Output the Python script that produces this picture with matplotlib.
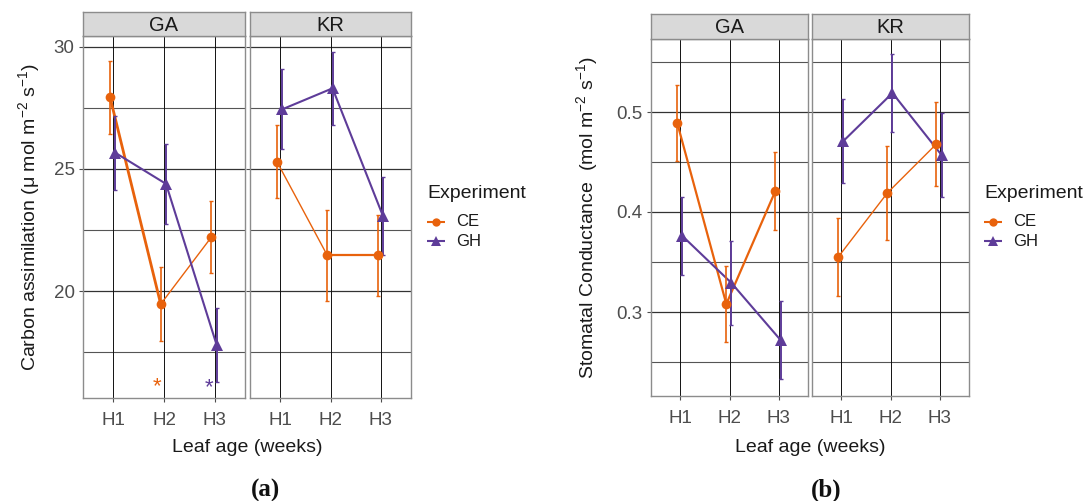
import matplotlib
matplotlib.use("Agg")
import matplotlib.pyplot as plt
import numpy as np

plt.rcParams['font.family'] = ['Liberation Sans', 'DejaVu Sans']
plt.rcParams['mathtext.fontset'] = 'custom'
plt.rcParams['mathtext.rm'] = 'Liberation Sans'

# ---------------- data ----------------
weeks = ['H1', 'H2', 'H3']
sites = ['GA', 'KR']
experiments = ['CE', 'GH']

# Carbon assimilation (a)
A_GA_CE = [27.93, 19.47, 22.21]
A_GA_CE_err = [1.50, 1.50, 1.48]
A_GA_GH = [25.66, 24.39, 17.80]
A_GA_GH_err = [1.50, 1.63, 1.50]
A_KR_CE = [25.30, 21.47, 21.47]
A_KR_CE_err = [1.48, 1.87, 1.65]
A_KR_GH = [27.44, 28.30, 23.09]
A_KR_GH_err = [1.63, 1.50, 1.60]

# Stomatal conductance (b)
G_GA_CE = [0.489, 0.308, 0.421]
G_GA_CE_err = [0.038, 0.038, 0.039]
G_GA_GH = [0.376, 0.329, 0.272]
G_GA_GH_err = [0.039, 0.042, 0.039]
G_KR_CE = [0.355, 0.419, 0.468]
G_KR_CE_err = [0.039, 0.047, 0.042]
G_KR_GH = [0.471, 0.519, 0.457]
G_KR_GH_err = [0.042, 0.039, 0.042]

# significance asterisks in panel (a) GA
star_x = [1.855, 2.88]
star_y = [16.08, 16.05]
star_exp = ['CE', 'GH']

# ---------------- style ----------------
W, H = 1085, 501
colors = {'CE': '#E8620C', 'GH': '#5E3C99'}
markers = {'CE': 'o', 'GH': '^'}
msize = {'CE': 7.0, 'GH': 8.5}
dodge = {'CE': -0.065, 'GH': 0.04}
seg_w = {
    ('a', 'GA', 'CE'): [2.0, 1.0], ('a', 'GA', 'GH'): [1.5, 1.5],
    ('a', 'KR', 'CE'): [1.0, 1.6], ('a', 'KR', 'GH'): [1.5, 1.5],
    ('b', 'GA', 'CE'): [1.6, 1.6], ('b', 'GA', 'GH'): [1.5, 1.5],
    ('b', 'KR', 'CE'): [1.0, 1.0], ('b', 'KR', 'GH'): [1.5, 1.5],
}
data = {
    ('a', 'GA', 'CE'): (A_GA_CE, A_GA_CE_err), ('a', 'GA', 'GH'): (A_GA_GH, A_GA_GH_err),
    ('a', 'KR', 'CE'): (A_KR_CE, A_KR_CE_err), ('a', 'KR', 'GH'): (A_KR_GH, A_KR_GH_err),
    ('b', 'GA', 'CE'): (G_GA_CE, G_GA_CE_err), ('b', 'GA', 'GH'): (G_GA_GH, G_GA_GH_err),
    ('b', 'KR', 'CE'): (G_KR_CE, G_KR_CE_err), ('b', 'KR', 'GH'): (G_KR_GH, G_KR_GH_err),
}

fig = plt.figure(figsize=(W / 100, H / 100), dpi=100)


def px_axes(x0, y0, x1, y1):
    return fig.add_axes([x0 / W, 1 - y1 / H, (x1 - x0) / W, (y1 - y0) / H])


layout = {
    'a': dict(panels=[(83, 36, 245, 398), (250, 36, 411, 398)], strip=(12, 36),
              ylim=(15.63, 30.44), major=[20, 25, 30], minor=[17.5, 22.5, 27.5],
              ylabel='Carbon assimilation (μ mol m$^{-2}$ s$^{-1}$)', ylab_x=30,
              legend_x=427, xlab_x=247, tag='(a)', tag_x=266),
    'b': dict(panels=[(651, 39, 808, 396), (812, 39, 969, 396)], strip=(14, 39),
              ylim=(0.216, 0.573), major=[0.3, 0.4, 0.5], minor=[0.25, 0.35, 0.45, 0.55],
              ylabel='Stomatal Conductance  (mol m$^{-2}$ s$^{-1}$)', ylab_x=588,
              legend_x=984, xlab_x=810, tag='(b)', tag_x=826),
}

grid_c = '#333333'
border_c = '#8c8c8c'
xpos = np.arange(1, len(weeks) + 1)

for key, L in layout.items():
    for i, site in enumerate(sites):
        x0, y0, x1, y1 = L['panels'][i]
        ax = px_axes(x0, y0, x1, y1)
        ax.set_xlim(0.4, 3.6)
        ax.set_ylim(*L['ylim'])
        for yv in L['major']:
            ax.axhline(yv, color=grid_c, lw=0.9, zorder=0)
        for yv in L['minor']:
            ax.axhline(yv, color='#555555', lw=0.8, zorder=0)
        for xv in xpos:
            ax.axvline(xv, color='#111111', lw=0.7, zorder=0)
        for exp in experiments:
            vals, errs = data[(key, site, exp)]
            xs = xpos + dodge[exp]
            c = colors[exp]
            widths = seg_w[(key, site, exp)]
            for s in range(len(xs) - 1):
                ax.plot(xs[s:s + 2], vals[s:s + 2], color=c, lw=widths[s], zorder=2,
                        solid_capstyle='butt')
            ax.errorbar(xs, vals, yerr=errs, fmt='none', ecolor=c,
                        elinewidth=1.4 if exp == 'GH' else 1.2, capsize=1.2,
                        capthick=1.0, zorder=3)
            ax.plot(xs, vals, linestyle='none', marker=markers[exp], ms=msize[exp],
                    color=c, markeredgewidth=0, zorder=4)
        if key == 'a' and site == 'GA':
            for sx, sy, se in zip(star_x, star_y, star_exp):
                ax.text(sx, sy, '*', color=colors[se], fontsize=16, ha='center',
                        va='center', zorder=5, fontweight='light')
        ax.set_xticks(xpos)
        ax.set_xticklabels(weeks, fontsize=13.5, color='#4d4d4d')
        ax.set_yticks(L['major'])
        if i == 0:
            ax.set_yticklabels([('%g' % v) for v in L['major']], fontsize=13.5,
                               color='#4d4d4d')
        else:
            ax.set_yticklabels([])
            ax.tick_params(axis='y', length=0)
        ax.tick_params(axis='both', color='#4d4d4d', length=3, width=0.8, pad=3)
        ax.tick_params(axis='x', pad=7)
        for sp in ax.spines.values():
            sp.set_color(border_c)
            sp.set_linewidth(1.0)
        sax = px_axes(x0, L['strip'][0], x1, L['strip'][1])
        sax.set_facecolor('#d9d9d9')
        sax.set_xticks([])
        sax.set_yticks([])
        for sp in sax.spines.values():
            sp.set_color(border_c)
            sp.set_linewidth(1.0)
        sax.text(0.5, 0.45, site, transform=sax.transAxes, ha='center', va='center',
                 fontsize=14.5, color='#1a1a1a')

    yc = (L['panels'][0][1] + L['panels'][0][3]) / 2
    fig.text(L['ylab_x'] / W, 1 - yc / H, L['ylabel'], rotation=90, ha='center',
             va='center', fontsize=14, color='#1a1a1a')
    fig.text(L['xlab_x'] / W, 1 - 448 / H, 'Leaf age (weeks)', ha='center', va='center',
             fontsize=14, color='#1a1a1a')
    fig.text(L['tag_x'] / W, 1 - 490 / H, L['tag'], ha='center', va='center',
             fontsize=18, fontweight='bold', family='Liberation Serif', color='#111111')
    lx = L['legend_x']
    fig.text(lx / W, 1 - 193 / H, 'Experiment', ha='left', va='center', fontsize=14,
             color='#1a1a1a')
    for j, exp in enumerate(experiments):
        ly = 222 + j * 19
        lax = px_axes(lx, ly - 8, lx + 18, ly + 8)
        lax.set_xlim(0, 1)
        lax.set_ylim(-1, 1)
        lax.axis('off')
        lax.plot([0.05, 0.95], [0, 0], color=colors[exp], lw=1.5)
        lax.plot([0.5], [0], marker=markers[exp], ms=6 if exp == 'CE' else 7,
                 color=colors[exp], markeredgewidth=0, linestyle='none')
        fig.text((lx + 29) / W, 1 - ly / H, exp, ha='left', va='center', fontsize=12,
                 color='#1a1a1a')

fig.savefig('out.png', dpi=100, facecolor='white')
